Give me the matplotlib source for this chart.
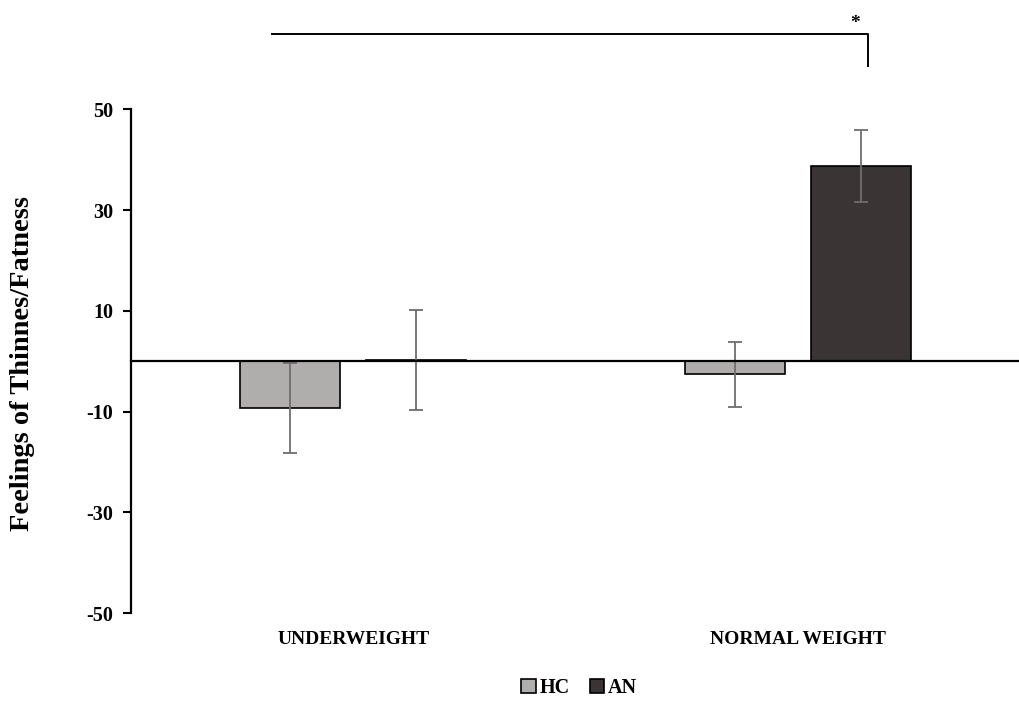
import matplotlib.pyplot as plt
import numpy as np
from matplotlib.patches import Patch

# data
groups = ["UNDERWEIGHT", "NORMAL WEIGHT"]
series = ["HC", "AN"]
hc_mean = [-9.3, -2.6]
hc_err = [9.0, 6.4]
an_mean = [0.3, 38.8]
an_err = [9.9, 7.2]
yticks = [-50, -30, -10, 10, 30, 50]

hc_color = "#b0adad"
an_color = "#3a3434"
err_color = "#6e6e6e"

plt.rcParams["font.family"] = ["Liberation Serif", "DejaVu Serif"]
plt.rcParams["font.weight"] = "bold"

fig = plt.figure(figsize=(10.2, 7.01), dpi=100)
ax = fig.add_axes([0.1284, 0.1255, 0.8716, 0.7183])

x = np.arange(len(groups))
width = 0.225
off = 0.142

ax.bar(x - off, hc_mean, width, color=hc_color, edgecolor="black", linewidth=1.2, zorder=2)
ax.bar(x + off, an_mean, width, color=an_color, edgecolor="black", linewidth=1.2, zorder=2)
ax.errorbar(x - off, hc_mean, yerr=hc_err, fmt="none", ecolor=err_color,
            elinewidth=1.3, capsize=5, capthick=1.3, zorder=3)
ax.errorbar(x + off, an_mean, yerr=an_err, fmt="none", ecolor=err_color,
            elinewidth=1.3, capsize=5, capthick=1.3, zorder=3)

ax.set_xlim(-0.5, 1.5)
ax.set_ylim(-50, 50)
ax.set_yticks(yticks)
ax.set_yticklabels([str(t) for t in yticks], fontsize=14.5, fontweight="bold")
ax.tick_params(axis="y", direction="out", length=6, width=1.5, pad=7)
ax.tick_params(axis="x", length=0, labelbottom=False)

ax.spines["top"].set_visible(False)
ax.spines["right"].set_visible(False)
ax.spines["left"].set_linewidth(1.6)
ax.spines["bottom"].set_position(("data", 0))
ax.spines["bottom"].set_linewidth(1.6)
ax.spines["bottom"].set_zorder(4)

ax.set_ylabel("Feelings of Thinnes/Fatness", fontsize=20.5, fontweight="bold")
ax.yaxis.set_label_coords(-0.108, 0.495)

for i, g in enumerate(groups):
    ax.text(i, -0.053, g, transform=ax.get_xaxis_transform(), ha="center", va="center",
            fontsize=14, fontweight="bold")

# significance bracket
ax.plot([-0.183, 1.158, 1.158], [65, 65, 58.6], color="black", linewidth=1.4,
        clip_on=False)
ax.text(1.129, 67, "*", ha="center", va="center", fontsize=14, fontweight="bold")

handles = [Patch(facecolor=hc_color, edgecolor="black", linewidth=1.2),
           Patch(facecolor=an_color, edgecolor="black", linewidth=1.2)]
fig.legend(handles, series, loc="center", bbox_to_anchor=(0.568, 0.019), ncol=2,
           frameon=False, prop={"size": 14.5, "weight": "bold"}, handlelength=0.7,
           handleheight=0.7, handletextpad=0.2, columnspacing=1.0)

fig.savefig("out.png", dpi=100)
